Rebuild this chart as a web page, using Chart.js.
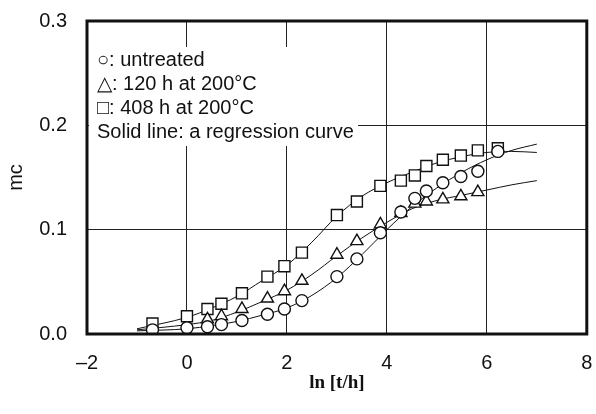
<!DOCTYPE html>
<html>
<head>
<meta charset="utf-8">
<script src="https://cdn.jsdelivr.net/npm/chart.js@4/dist/chart.umd.min.js"></script>
<style>
  html, body { margin: 0; padding: 0; background: #fff; }
  #wrap { width: 596px; height: 414px; position: relative; }
</style>
</head>
<body>
<div id="wrap"><canvas id="chart" width="596" height="414"></canvas></div>
<script>
// ln(t/h) of the sampling times
const lnT = [-0.69, 0, 0.41, 0.69, 1.10, 1.61, 1.95, 2.30, 3.00, 3.40, 3.87, 4.28, 4.56, 4.79, 5.12, 5.48, 5.82, 6.22];
// measured mc values (null = no marker)
const untreated = [0.004, 0.006, 0.007, 0.009, 0.013, 0.019, 0.024, 0.032, 0.055, 0.072, 0.097, 0.117, 0.130, 0.137, 0.145, 0.151, 0.156, 0.175];
const h120 = [null, null, 0.014, 0.017, 0.024, 0.034, 0.041, 0.051, 0.076, 0.089, 0.105, 0.116, 0.125, 0.127, 0.129, 0.132, 0.136, null];
const h408 = [0.010, 0.017, 0.024, 0.029, 0.039, 0.055, 0.065, 0.078, 0.114, 0.127, 0.142, 0.147, 0.152, 0.161, 0.167, 0.171, 0.176, 0.178];

// regression curves
const curveX = [-1, 0, 0.5, 1, 1.5, 2, 2.5, 3, 3.5, 4, 4.5, 5, 5.5, 6, 6.5, 7];
const curveUntreated = [0.003, 0.005, 0.008, 0.012, 0.018, 0.025, 0.037, 0.054, 0.076, 0.100, 0.122, 0.140, 0.155, 0.167, 0.176, 0.182];
const curve120 = [0.004, 0.009, 0.013, 0.021, 0.031, 0.042, 0.057, 0.075, 0.092, 0.107, 0.120, 0.128, 0.133, 0.138, 0.143, 0.147];
const curve408 = [0.005, 0.016, 0.025, 0.036, 0.051, 0.066, 0.088, 0.113, 0.132, 0.145, 0.155, 0.164, 0.170, 0.174, 0.175, 0.174];

const xTicks = [-2, 0, 2, 4, 6, 8];
const yTicks = [0.0, 0.1, 0.2, 0.3];

const legendLines = ['○: untreated', '△: 120 h at 200°C', '□: 408 h at 200°C', 'Solid line: a regression curve'];

const SANS = "'Liberation Sans', Arial, Helvetica, sans-serif";

function toPoints(xs, ys) {
    const pts = [];
    for (let i = 0; i < xs.length; i++) {
        if (ys[i] == null) continue;
        pts.push({ x: xs[i], y: ys[i] });
    }
    return pts;
}

function markerSet(label, ys, style, radius) {
    return {
        label: label,
        data: toPoints(lnT, ys),
        showLine: false,
        pointStyle: style,
        pointRadius: radius,
        pointBackgroundColor: '#fff',
        pointBorderColor: '#111',
        pointBorderWidth: 1.4,
        order: 0
    };
}

function curveSet(label, ys) {
    return {
        label: label,
        data: toPoints(curveX, ys),
        showLine: true,
        borderColor: '#111',
        borderWidth: 1,
        pointRadius: 0,
        cubicInterpolationMode: 'monotone',
        order: 1
    };
}

// white box with the key text, drawn over the grid
const keyBox = {
    id: 'keyBox',
    beforeDatasetsDraw(chart) {
        const ctx = chart.ctx;
        ctx.save();
        ctx.fillStyle = '#fff';
        ctx.fillRect(89, 47, 269, 99);
        ctx.fillStyle = '#111';
        ctx.font = '20px ' + SANS;
        ctx.textBaseline = 'alphabetic';
        ctx.textAlign = 'left';
        const baselines = [66, 90, 114, 138];
        legendLines.forEach(function (t, i) {
            ctx.fillText(t, 97, baselines[i]);
        });
        ctx.restore();
    },
    afterDatasetsDraw(chart) {
        const a = chart.chartArea;
        const ctx = chart.ctx;
        ctx.save();
        ctx.strokeStyle = '#111';
        ctx.lineWidth = 3;
        ctx.strokeRect(a.left, a.top, a.right - a.left, a.bottom - a.top);
        ctx.restore();
    }
};

new Chart(document.getElementById('chart'), {
    type: 'scatter',
    data: {
        datasets: [
            markerSet('untreated', untreated, 'circle', 6),
            markerSet('120 h at 200°C', h120, 'triangle', 7),
            markerSet('408 h at 200°C', h408, 'rect', 7.8),
            curveSet('fit untreated', curveUntreated),
            curveSet('fit 120 h', curve120),
            curveSet('fit 408 h', curve408)
        ]
    },
    options: {
        responsive: false,
        animation: false,
        devicePixelRatio: 1,
        layout: { padding: { left: 0, right: 9, top: 21, bottom: 0 } },
        plugins: {
            legend: { display: false },
            tooltip: { enabled: false }
        },
        scales: {
            x: {
                type: 'linear',
                min: -2,
                max: 8,
                afterBuildTicks(scale) {
                    scale.ticks = xTicks.map(v => ({ value: v }));
                },
                afterFit(scale) {
                    scale.height = 80;
                    scale.paddingLeft = 0;
                    scale.paddingRight = 0;
                },
                grid: { color: '#222', lineWidth: 1, drawTicks: false },
                border: { display: false },
                ticks: {
                    color: '#111',
                    padding: 17,
                    font: { family: SANS, size: 20 },
                    callback: v => (v < 0 ? '–' + Math.abs(v) : String(v))
                },
                title: {
                    display: true,
                    text: 'ln [t/h]',
                    color: '#111',
                    padding: { top: 0, bottom: 20 },
                    font: { family: "'Liberation Serif', 'Times New Roman', serif", size: 19, weight: 'bold' }
                }
            },
            y: {
                type: 'linear',
                min: 0,
                max: 0.3,
                afterBuildTicks(scale) {
                    scale.ticks = yTicks.map(v => ({ value: v }));
                },
                afterFit(scale) {
                    scale.width = 87;
                    scale.paddingTop = 0;
                    scale.paddingBottom = 0;
                },
                grid: { color: '#222', lineWidth: 1, drawTicks: false },
                border: { display: false },
                ticks: {
                    color: '#111',
                    padding: 20,
                    font: { family: SANS, size: 20 },
                    callback: v => Number(v).toFixed(1)
                },
                title: {
                    display: true,
                    text: 'mc',
                    color: '#111',
                    padding: { bottom: 10 },
                    font: { family: SANS, size: 20 }
                }
            }
        }
    },
    plugins: [keyBox]
});
</script>
</body>
</html>
